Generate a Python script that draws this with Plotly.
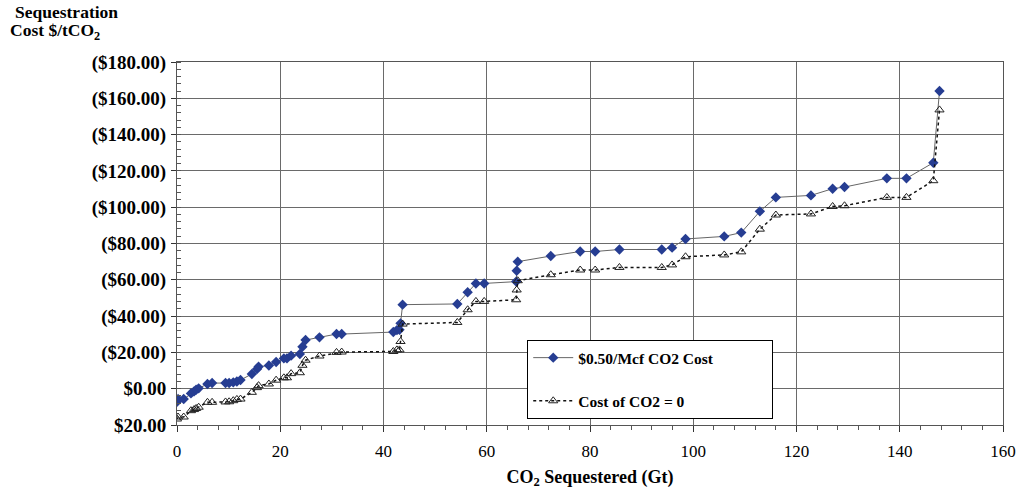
import plotly.graph_objects as go

# Cumulative CO2 sequestered (Gt) for each supply step
co2_gt = [0, 0.2, 1.3, 2.7, 3.3, 3.7, 4.2, 5.9, 6.8, 9.4, 10.1, 10.9, 11.6, 12.3,
          14.5, 15.5, 15.8, 17.8, 19.2, 20.7, 21.3, 22.1, 23.8, 24.3, 24.9, 27.6,
          30.9, 31.9, 41.9, 42.6, 43.1, 43.3, 43.7, 54.3, 56.3, 57.9, 59.5, 65.7,
          65.8, 66.0, 72.4, 78.1, 81.0, 85.7, 93.9, 95.9, 98.5, 106.0, 109.3,
          112.9, 116.0, 122.8, 127.0, 129.3, 137.5, 141.3, 146.5, 147.7]

# Sequestration cost ($/tCO2) with CO2 priced at $0.50/Mcf
cost_050 = [-7.2, -5.7, -5.7, -2.6, -1.5, -0.6, 0.2, 2.6, 3.1, 3.1, 3.1, 3.5, 4.0,
            4.8, 8.1, 10.8, 12.1, 12.8, 14.7, 16.7, 16.7, 18.2, 19.1, 23.1, 26.8,
            28.3, 30.1, 30.1, 31.2, 32.3, 32.5, 36.0, 46.3, 46.7, 53.1, 58.0, 58.0,
            59.0, 65.0, 70.0, 73.1, 75.6, 75.6, 76.7, 76.7, 77.7, 82.5, 83.9, 86.0,
            97.7, 105.4, 106.5, 110.2, 111.1, 115.9, 115.9, 124.5, 164.0]

# Sequestration cost ($/tCO2) with CO2 at zero cost
cost_zero = [-16.7, -15.6, -15.6, -12.1, -11.5, -10.9, -10.2, -7.5, -7.5, -7.3,
             -7.2, -6.6, -5.9, -5.7, -2.0, 0.6, 1.7, 2.6, 4.7, 6.0, 6.0, 8.3, 8.8,
             12.9, 15.7, 18.0, 20.0, 20.2, 20.5, 21.4, 21.4, 26.0, 35.6, 36.5, 43.5,
             48.1, 48.1, 49.0, 54.4, 59.5, 62.8, 65.4, 65.4, 66.8, 66.8, 68.2, 72.7,
             73.7, 75.4, 87.9, 95.7, 96.3, 100.4, 100.8, 105.4, 105.4, 114.6, 153.6]

y_ticks = [-20, 0, 20, 40, 60, 80, 100, 120, 140, 160, 180]
y_tick_labels = ["$20.00", "$0.00", "($20.00)", "($40.00)", "($60.00)", "($80.00)",
                 "($100.00)", "($120.00)", "($140.00)", "($160.00)", "($180.00)"]
x_ticks = [0, 20, 40, 60, 80, 100, 120, 140, 160]

FONT = "Liberation Serif"
GRID = "#6a6a6a"
PAD = "\u00a0" * 14

fig = go.Figure()
fig.add_trace(go.Scatter(
    x=co2_gt, y=cost_050, mode="lines+markers",
    name="<b>$0.50/Mcf CO2 Cost</b>" + PAD, legendgroup="a",
    line=dict(color="#666666", width=1),
    marker=dict(symbol="diamond", size=8, color="#263D92"),
))
fig.add_trace(go.Scatter(
    x=co2_gt, y=cost_zero, mode="lines+markers",
    name="<b>Cost of CO2 = 0</b>", legendgroup="b",
    line=dict(color="#111111", width=1.5, dash="dot"),
    marker=dict(symbol="triangle-up-open", size=8, color="#222222",
                line=dict(width=1)),
))

fig.update_xaxes(
    range=[0, 160], tickvals=x_ticks,
    tickfont=dict(family=FONT, size=17, color="#000000"),
    showgrid=True, gridcolor=GRID, gridwidth=1,
    showline=True, linecolor="#555555", linewidth=1, mirror=True,
    ticks="outside", ticklen=6, tickcolor="#333333",
    minor=dict(dtick=4, ticks="outside", ticklen=4, tickcolor="#555555", showgrid=False),
    zeroline=False, ticklabelstandoff=5, automargin=False,
    title=dict(text="<b>CO<sub>2</sub> Sequestered (Gt)</b>",
               font=dict(family=FONT, size=18, color="#000000"), standoff=9),
)
fig.update_yaxes(
    range=[-20, 180], tickvals=y_ticks, ticktext=[f"<b>{t}</b>" for t in y_tick_labels],
    tickfont=dict(family=FONT, size=19, color="#000000"),
    showgrid=True, gridcolor=GRID, gridwidth=1,
    showline=True, linecolor="#555555", linewidth=1, mirror=True,
    ticks="outside", ticklen=5, tickcolor="#333333",
    minor=dict(dtick=4, ticks="inside", ticklen=4, tickcolor="#555555", showgrid=False),
    zeroline=False, ticklabelstandoff=1, automargin=False,
)

fig.add_annotation(text="<b>Sequestration</b>", xref="paper", yref="paper",
                   x=-0.199, y=1.137, xanchor="left", yanchor="middle", showarrow=False,
                   font=dict(family=FONT, size=17.5, color="#000000"))
fig.add_annotation(text="<b>Cost $/tCO<sub>2</sub></b>", xref="paper", yref="paper",
                   x=-0.204, y=1.083, xanchor="left", yanchor="middle", showarrow=False,
                   font=dict(family=FONT, size=17.5, color="#000000"))

fig.update_layout(
    width=1019, height=491,
    margin=dict(l=177, r=16, t=62, b=66),
    paper_bgcolor="white", plot_bgcolor="white",
    font=dict(family=FONT, color="#000000"),
    legend=dict(
        x=0.424, y=0.234, xanchor="left", yanchor="top",
        bgcolor="white", bordercolor="#000000", borderwidth=1,
        font=dict(family=FONT, size=15.5, color="#000000"),
        tracegroupgap=20, itemwidth=40,
    ),
)

fig.write_html("out.html")
